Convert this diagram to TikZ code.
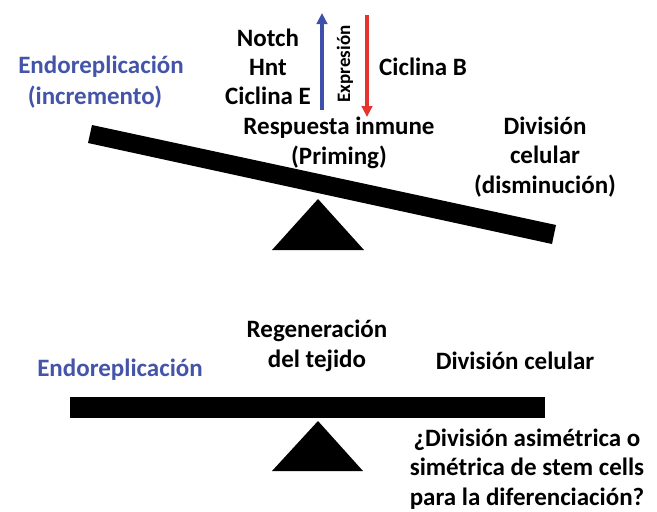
\documentclass[tikz,border=0pt]{standalone}
\usepackage{fontspec}
\setmainfont{Carlito}
\usetikzlibrary{arrows.meta}
\definecolor{endoblue}{RGB}{68,84,168}
\definecolor{arrred}{RGB}{232,50,46}
\definecolor{arrblue}{RGB}{62,80,170}
\tikzset{
  lbl/.style={font=\bfseries\fontsize{25}{29.5}\selectfont, inner sep=0pt, align=center, text=black},
  bluelbl/.style={lbl, text=endoblue},
  beam/.style={fill=black, draw=none},
  fulcrum/.style={fill=black, draw=none},
  exparrow/.style={line width=3.3pt, -{Triangle[length=11pt,width=10.5pt]}},
}
\begin{document}
\begin{tikzpicture}[x=1pt,y=-1pt]
\useasboundingbox (0,0) rectangle (657,512);
% top balance
\coordinate (b1) at (92,125);
\coordinate (b2) at (556,225);
\coordinate (b3) at (552,244);
\coordinate (b4) at (88,143);
\fill[beam] (b1) -- (b2) -- (b3) -- (b4) -- cycle;
\fill[fulcrum] (318,199) -- (364,250) -- (272,250) -- cycle;
\node[bluelbl] (endo1) at (101,67) {Endoreplicación};
\node[bluelbl] (incr) at (95,97) {(incremento)};
\node[lbl] (notch) at (268,38) {Notch};
\node[lbl] (hnt) at (268,67) {Hnt};
\node[lbl] (ccle) at (268,96) {Ciclina E};
\coordinate (bu0) at (322,110);
\coordinate (bu1) at (322,13);
\draw[arrblue, exparrow] (bu0) -- (bu1);
\coordinate (rd0) at (367,15);
\coordinate (rd1) at (367,117);
\draw[arrred, exparrow] (rd0) -- (rd1);
\node[lbl, font=\bfseries\fontsize{19}{22}\selectfont, rotate=90] (expr) at (345,64) {Expresión};
\node[lbl] (cclb) at (423,67) {Ciclina B};
\node[lbl] (resp) at (339,143) {Respuesta inmune\\(Priming)};
\node[lbl] (div1) at (545,157) {División\\celular\\(disminución)};
% bottom balance
\fill[beam] (70,397) rectangle (545,418);
\fill[fulcrum] (318,421) -- (363,471) -- (272,471) -- cycle;
\node[lbl] (regen) at (317,346) {Regeneración\\del tejido};
\node[bluelbl] (endo2) at (120,370) {Endoreplicación};
\node[lbl] (div2) at (515,361) {División celular};
\node[lbl] (asym) at (527,469) {¿División asimétrica o\\simétrica de stem cells\\para la diferenciación?};
\end{tikzpicture}
\end{document}
